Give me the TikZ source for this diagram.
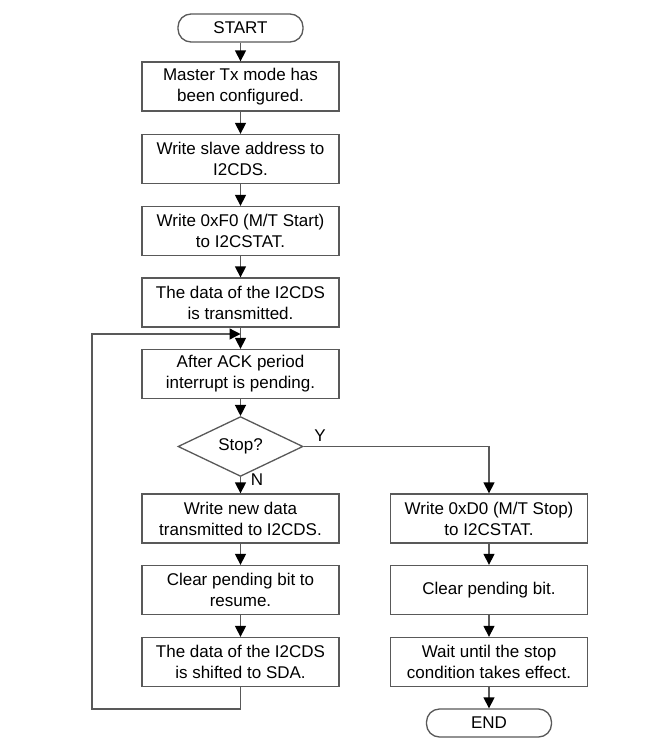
\documentclass[tikz,border=0pt]{standalone}
\usepackage{fontspec}
\setmainfont{Liberation Sans}
\usetikzlibrary{arrows.meta,shapes.geometric}
\begin{document}
\begin{tikzpicture}[x=1pt,y=-1pt,
  every node/.style={font=\fontsize{17}{21}\selectfont, text=black},
  box/.style={draw=black!65, line width=1.3pt, minimum width=197pt, minimum height=49pt, inner sep=0pt, align=center},
  term/.style={draw=black!65, line width=1.3pt, rounded corners=13pt, minimum width=125pt, minimum height=28pt, inner sep=0pt},
  dec/.style={draw=black!65, line width=1.3pt, diamond, minimum width=125pt, minimum height=47pt, inner sep=0pt},
  arr/.style={draw=black!65, line width=1.3pt, -{Triangle[width=11pt,length=11pt,color=black]}},
  lbl/.style={inner sep=0pt}
]
\fill[white] (0,0) rectangle (649,745);
\useasboundingbox (0,0) rectangle (649,745);

\node[term] (start) at (240.5,28) {START};
\node[box] (b1) at (240.5,86.5) {Master Tx mode has\\been configured.};
\node[box] (b2) at (240.5,159) {Write slave address to\\I2CDS.};
\node[box] (b3) at (240.5,231) {Write 0xF0 (M/T Start)\\to I2CSTAT.};
\node[box] (b4) at (240.5,302.5) {The data of the I2CDS\\is transmitted.};
\node[box] (b5) at (240.5,374) {After ACK period\\interrupt is pending.};
\node[dec] (stop) at (240.5,446.5) {Stop?};
\node[box] (l1) at (240.5,518.5) {Write new data\\transmitted to I2CDS.};
\node[box] (l2) at (240.5,590) {Clear pending bit to\\resume.};
\node[box] (l3) at (240.5,662) {The data of the I2CDS\\is shifted to SDA.};
\node[box] (r1) at (489,518.5) {Write 0xD0 (M/T Stop)\\to I2CSTAT.};
\node[box] (r2) at (489,590) {Clear pending bit.};
\node[box] (r3) at (489,662) {Wait until the stop\\condition takes effect.};
\node[term] (end) at (489,723) {END};

\node[lbl] (ylbl) at (320,436) {Y};
\node[lbl] (nlbl) at (257,480) {N};

\coordinate (join) at (240.5,334);
\coordinate (lb) at (240.5,709);
\coordinate (ll) at (92,709);
\coordinate (lt) at (92,334);
\coordinate (yc) at (489,446.5);

\draw[arr] (start) -- (b1);
\draw[arr] (b1) -- (b2);
\draw[arr] (b2) -- (b3);
\draw[arr] (b3) -- (b4);
\draw[arr] (b4) -- (b5);
\draw[arr] (b5) -- (stop);
\draw[arr] (stop.east) -- (yc) -- (r1);
\draw[arr] (stop) -- (l1);
\draw[arr] (l1) -- (l2);
\draw[arr] (l2) -- (l3);
\draw[arr] (l3.south) -- (lb) -- (ll) -- (lt) -- (join);
\draw[arr] (r1) -- (r2);
\draw[arr] (r2) -- (r3);
\draw[arr] (r3) -- (end);
\end{tikzpicture}
\end{document}
